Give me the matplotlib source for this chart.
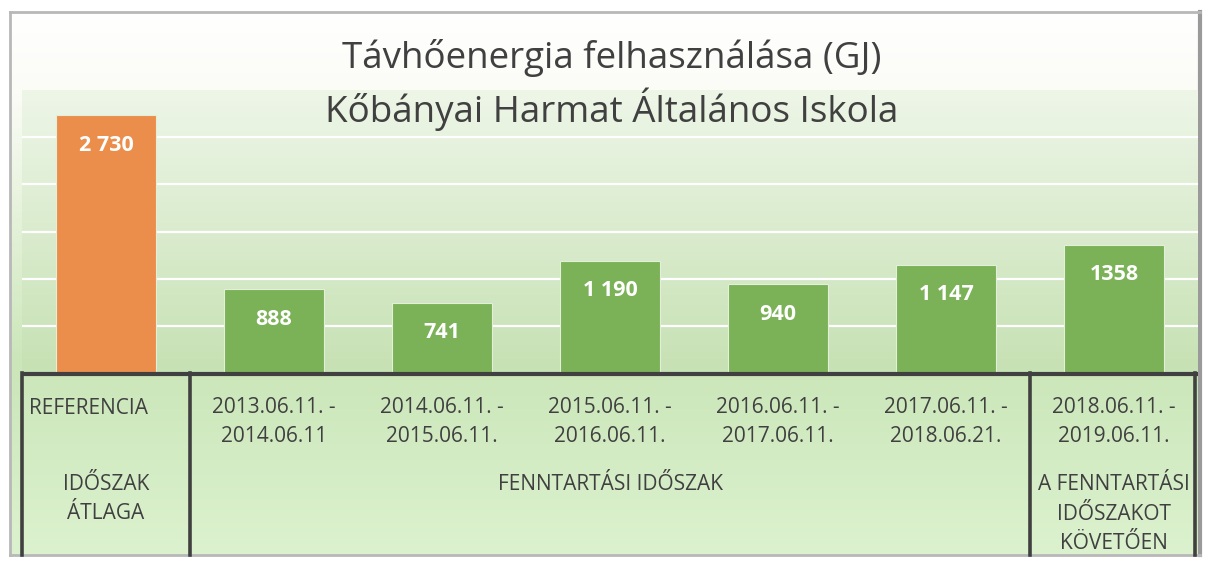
import numpy as np
import matplotlib.pyplot as plt
from matplotlib.colors import to_rgb

# chart data
values = [2730, 888, 741, 1190, 940, 1147, 1358]
value_labels = ["2 730", "888", "741", "1 190", "940", "1 147", "1358"]
periods = ["REFERENCIA", "2013.06.11. -\n2014.06.11", "2014.06.11. -\n2015.06.11.",
           "2015.06.11. -\n2016.06.11.", "2016.06.11. -\n2017.06.11.",
           "2017.06.11. -\n2018.06.21.", "2018.06.11. -\n2019.06.11."]
groups = ["IDŐSZAK\nÁTLAGA", "FENNTARTÁSI IDŐSZAK", "A FENNTARTÁSI\nIDŐSZAKOT\nKÖVETŐEN"]
group_spans = [(0, 0), (1, 5), (6, 6)]
title = "Távhőenergia felhasználása (GJ)\nKőbányai Harmat Általános Iskola"

ORANGE = "#ec8e4b"
GREEN = "#7bb257"
TEXT = "#404040"
FONT = "Open Sans"

W, H = 1207, 561
fig = plt.figure(figsize=(W / 100, H / 100), dpi=100)
fig.patch.set_facecolor("white")


def gradient(stops, n=600):
    ys = np.linspace(0, 1, n)
    pos = [s[0] for s in stops]
    cols = np.array([to_rgb(s[1]) for s in stops])
    img = np.stack([np.interp(ys, pos, cols[:, i]) for i in range(3)], axis=1)
    return img[:, None, :]


def fig_rect(x0, y0, x1, y1):
    # pixel box (top-left origin) -> figure fraction [l, b, w, h]
    return [x0 / W, 1 - y1 / H, (x1 - x0) / W, (y1 - y0) / H]


# chart area background with frame
bg = fig.add_axes(fig_rect(10, 12, 1200, 555), zorder=0)
bg.imshow(gradient([(0, "#ffffff"), (0.15, "#fbfcf6"), (0.65, "#cbe6b9"), (1, "#dcf2cf")]),
          aspect="auto", extent=[0, 1, 1, 0])
bg.set_xlim(0, 1)
bg.set_ylim(1, 0)
bg.set_xticks([])
bg.set_yticks([])
for s in bg.spines.values():
    s.set_color("#b8b8b8")
    s.set_linewidth(2)
bg.spines["right"].set_color("#9a9a9a")
bg.spines["right"].set_linewidth(3)

# plot area
x0, x1, ytop, ybase = 22, 1198, 90, 373
ax = fig.add_axes(fig_rect(x0, ytop, x1, ybase), zorder=2)
ax.set_xlim(-0.5, len(values) - 0.5)
ax.set_ylim(0, 3000)
ax.imshow(gradient([(0, "#eef6e8"), (1, "#c6e1b3")]), aspect="auto",
          extent=[-0.5, len(values) - 0.5, 0, 3000], zorder=0)
for g in range(500, 3000, 500):
    ax.axhline(g, color="white", lw=1.6, zorder=1)

x = np.arange(len(values))
colors = [ORANGE] + [GREEN] * (len(values) - 1)
ax.bar(x, values, width=0.6, color=colors, edgecolor="#e3efda", linewidth=0.8, zorder=2)
for xi, v, lab in zip(x, values, value_labels):
    ax.annotate(lab, (xi, v), xytext=(0, -21.5), textcoords="offset points",
                ha="center", va="center", color="white", fontsize=15.5,
                fontweight="bold", family=FONT, zorder=3)
ax.set_xticks([])
ax.set_yticks([])
for s in ax.spines.values():
    s.set_visible(False)
ax.set_aspect("auto")

# category table below the plot
tb = fig.add_axes(fig_rect(x0, ybase, x1, 555), zorder=3)
tb.patch.set_alpha(0)
tb.set_xlim(-0.5, len(values) - 0.5)
tb.set_ylim(555, ybase)
tb.set_xticks([])
tb.set_yticks([])
for s in tb.spines.values():
    s.set_visible(False)
tb.plot([-0.5, len(values) - 0.5], [ybase + 1, ybase + 1], color="#404040", lw=3,
        solid_capstyle="butt", clip_on=False)
for xb in [-0.5, 0.5, 5.5, 6.48]:
    tb.plot([xb, xb], [ybase, 555], color="#404040", lw=2.6, clip_on=False)

FS = 15
for i, lab in enumerate(periods):
    if i == 0:
        tb.text(-0.46, 408, lab, ha="left", va="center", fontsize=FS,
                color=TEXT, family=FONT)
    else:
        tb.text(i, 422, lab, ha="center", va="center", fontsize=FS,
                color=TEXT, family=FONT, linespacing=1.55)

group_y = [499, 484, 514]
for lab, (a, b), gy in zip(groups, group_spans, group_y):
    tb.text((a + b) / 2, gy, lab, ha="center", va="center", fontsize=FS,
            color=TEXT, family=FONT, linespacing=1.55)

# title
fig.text(612 / W, 1 - 85 / H, title, ha="center", va="center", fontsize=26.5,
         color=TEXT, family=FONT, linespacing=1.28, zorder=5)

fig.savefig("out.png", dpi=100)
